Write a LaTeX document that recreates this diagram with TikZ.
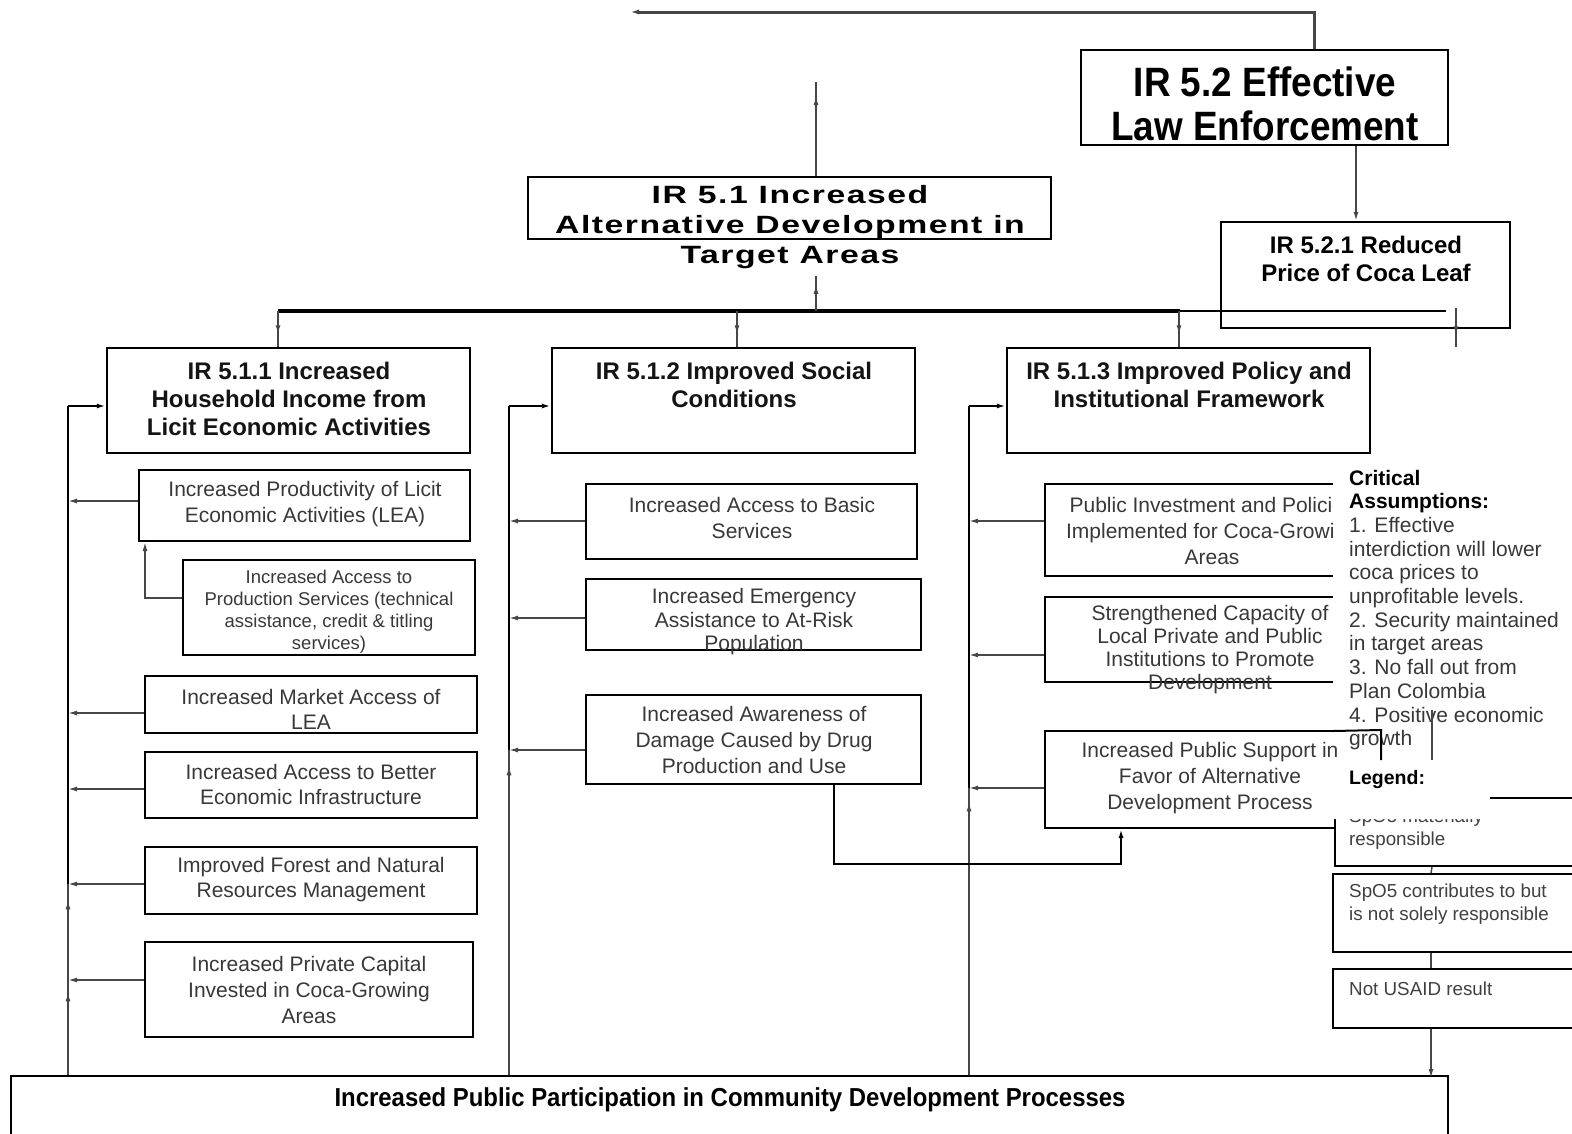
\documentclass[tikz,border=0pt]{standalone}
\usepackage{fontspec}
\setmainfont{Liberation Sans}
\newfontfamily\wideb[FakeStretch=1.35,LetterSpace=6]{Liberation Sans}
\newfontfamily\narrowb[FakeStretch=0.9]{Liberation Sans}
\newfontfamily\bnarrow[FakeStretch=0.92]{Liberation Sans}
\usetikzlibrary{arrows.meta,decorations.markings,calc}
\newcommand\mkbox[6][]{\node[boxst,#1,minimum width={#5-#3},minimum height={#6-#4}] (#2) at ({(#3+#5)/2},{(#4+#6)/2}) {};}
\tikzset{
 boxst/.style={draw=black, line width=2pt, inner sep=0pt},
 conn/.style={draw=black!72, line width=1.5pt},
 thk/.style={draw=black, line width=2.2pt},
 arr/.style={-{Latex[length=9pt,width=5pt]}},
 tipat/.style={postaction={decorate}, decoration={markings, mark=at position #1 with {\arrow{Latex[length=9pt,width=5pt]}}}},
 ttl/.style={font=\bfseries\fontsize{24}{28}\selectfont, align=center, text=black!92, inner sep=0pt},
 sub/.style={font=\fontsize{21}{25.5}\selectfont, align=center, text=black!78, inner sep=0pt},
 lgt/.style={font=\fontsize{18.8}{23}\selectfont, align=left, text=black!75, inner sep=0pt, anchor=west},
}
\begin{document}
\begin{tikzpicture}[x=1pt,y=-1pt]
\useasboundingbox (0,0) rectangle (1572,1133);
% ---------- boxes ----------
\mkbox[line width=2.4pt]{ir52}{1081}{50}{1448}{145}
\mkbox[line width=2.4pt]{ir521}{1221}{222}{1510}{328}
\mkbox[line width=2.4pt]{ir51}{528}{177}{1051}{239}
\mkbox[line width=2.4pt]{ir511}{107}{348}{470}{453}
\mkbox[line width=2.4pt]{ir512}{552}{348}{915}{453}
\mkbox[line width=2.4pt]{ir513}{1007}{348}{1370}{453}
\mkbox{lea}{139}{470}{470}{541}
\mkbox{prod}{183}{560}{475}{655}
\mkbox{mkt}{145}{676}{477}{733}
\mkbox{infra}{145}{752}{477}{818}
\mkbox{forest}{145}{847}{477}{914}
\mkbox{cap}{145}{942}{473}{1037}
\mkbox{basic}{586}{484}{917}{559}
\mkbox{emerg}{586}{579}{921}{650}
\mkbox{aware}{586}{695}{921}{784}
\mkbox{pubinv}{1045}{484}{1380}{576}
\mkbox{strength}{1045}{597}{1380}{682}
\mkbox{support}{1045}{731}{1380}{828}
\mkbox[line width=2.4pt]{bottom}{11}{1076}{1448}{1150}
% ---------- texts ----------
\node[font=\narrowb\bfseries\fontsize{41}{44}\selectfont, align=center, inner sep=0pt] (t52) at (1265,104) {IR 5.2 Effective\\Law Enforcement};
\node[font=\bfseries\fontsize{24}{28}\selectfont, align=center, inner sep=0pt] (t521) at (1366,259) {IR 5.2.1 Reduced\\Price of Coca Leaf};
\node[font=\wideb\bfseries\fontsize{25}{30}\selectfont, align=center, inner sep=0pt] (t51) at (790,227) {IR 5.1 Increased\\Alternative Development in\\Target Areas};
\node[ttl] (t511) at (289,399) {IR 5.1.1 Increased\\Household Income from\\Licit Economic Activities};
\node[ttl] (t512) at (734,385) {IR 5.1.2 Improved Social\\Conditions};
\node[ttl] (t513) at (1189,385) {IR 5.1.3 Improved Policy and\\Institutional Framework};
\node[sub, font=\fontsize{21}{26}\selectfont] (tlea) at (305,504) {Increased Productivity of Licit\\Economic Activities (LEA)};
\node[sub, font=\fontsize{18.5}{22}\selectfont] (tprod) at (329,612) {Increased Access to\\Production Services (technical\\assistance, credit \& titling\\services)};
\node[sub, font=\fontsize{21}{25}\selectfont] (tmkt) at (311,709) {Increased Market Access of\\LEA};
\node[sub, font=\fontsize{21}{25}\selectfont] (tinfra) at (311,784) {Increased Access to Better\\Economic Infrastructure};
\node[sub, font=\fontsize{21}{25}\selectfont] (tforest) at (311,880) {Improved Forest and Natural\\Resources Management};
\node[sub, font=\fontsize{21}{26}\selectfont] (tcap) at (309,990) {Increased Private Capital\\Invested in Coca-Growing\\Areas};
\node[sub, font=\fontsize{21}{26}\selectfont] (tbasic) at (752,518) {Increased Access to Basic\\Services};
\node[sub, font=\fontsize{21}{23.5}\selectfont] (temerg) at (754,622) {Increased Emergency\\Assistance to At-Risk\\Population};
\node[sub, font=\fontsize{21}{26}\selectfont] (taware) at (754,740) {Increased Awareness of\\Damage Caused by Drug\\Production and Use};
\node[sub, font=\fontsize{21}{26}\selectfont] (tpubinv) at (1212,531) {Public Investment and Policies\\Implemented for Coca-Growing\\Areas};
\node[sub, font=\fontsize{21}{23}\selectfont] (tstrength) at (1210,649.5) {Strengthened Capacity of\\Local Private and Public\\Institutions to Promote\\Development};
\node[sub, font=\fontsize{21}{26}\selectfont] (tsupport) at (1210,778) {Increased Public Support in\\Favor of Alternative\\Development Process};
\node[font=\bnarrow\bfseries\fontsize{26}{28}\selectfont, inner sep=0pt] (tbottom) at (730,1100) {Increased Public Participation in Community Development Processes};
% ---------- top connectors ----------
\coordinate (topL) at (630,12);
\draw[conn, line width=3pt, arr] ([xshift=49.5pt]ir52.north) |- (topL);
\draw[conn, arr] ([xshift=91.5pt]ir52.south) -- ([xshift=-9.5pt]ir521.north);
\coordinate (up51) at (816,82);
\draw[conn, tipat=0.85] ([xshift=26.5pt]ir51.north) -- (up51);
\coordinate (barL) at (278,311);
\coordinate (barM) at (1180,311);
\coordinate (barR) at (1446,311);
\coordinate (barup) at (816,311);
\coordinate (t51b) at (816,276);
\coordinate (b2) at (737,311);
\coordinate (b3) at (1179,311);
\coordinate (b4) at (1456,308);
\coordinate (b4e) at (1456,347);
\draw[black, line width=4pt] (barL) -- (barM);
\draw[black, line width=2.2pt] (barM) -- (barR);
\draw[conn, tipat=0.75] (barup) -- (t51b);
\draw[conn, tipat=0.65] (barL) -- (barL |- ir511.north);
\draw[conn, tipat=0.65] (b2) -- (b2 |- ir512.north);
\draw[conn, tipat=0.65] (b3) -- (b3 |- ir513.north);
\draw[conn, tipat=0.7] (b4) -- (b4e);
% ---------- left column ----------
\coordinate (L0) at (68,406);
\coordinate (Llea) at (68,501);
\coordinate (Lmkt) at (68,713);
\coordinate (Linf) at (68,789);
\coordinate (Lfor) at (68,884);
\coordinate (Lcap) at (68,980);
\draw[thk] (Lfor) -- (L0);
\draw[thk, arr] (L0) -- (L0 -| ir511.west);
\draw[conn, tipat=0.87] (bottom.north -| Lcap) -- (Lcap);
\draw[conn, tipat=0.83] (Lcap) -- (Lfor);
\draw[conn, arr] (lea.west) ++(0,-4.5) -- (Llea);
\draw[conn, arr] (mkt.west) ++(0,8.5) -- (Lmkt);
\draw[conn, arr] (infra.west) ++(0,4) -- (Linf);
\draw[conn, arr] (forest.west) ++(0,3.5) -- (Lfor);
\draw[conn, arr] (cap.west) ++(0,-9.5) -- (Lcap);
\draw[conn, arr] (prod.west) ++(0,-9.5) -| ([xshift=-159.5pt]lea.south);
% ---------- middle column ----------
\coordinate (M0) at (509,406);
\coordinate (Mbas) at (509,521);
\coordinate (Mem) at (509,618);
\coordinate (Maw) at (509,750);
\draw[thk] (Maw) -- (M0);
\draw[thk, arr] (M0) -- (M0 -| ir512.west);
\draw[conn, tipat=0.95] (bottom.north -| Maw) -- (Maw);
\draw[conn, arr] (basic.west) ++(0,-0.5) -- (Mbas);
\draw[conn, arr] (emerg.west) ++(0,3.5) -- (Mem);
\draw[conn, arr] (aware.west) ++(0,10.5) -- (Maw);
% ---------- right column ----------
\coordinate (R0) at (969,406);
\coordinate (Rpi) at (969,521);
\coordinate (Rst) at (969,655);
\coordinate (Rsu) at (969,788);
\draw[thk] (Rsu) -- (R0);
\draw[thk, arr] (R0) -- (R0 -| ir513.west);
\draw[conn, tipat=0.95] (bottom.north -| Rsu) -- (Rsu);
\draw[conn, arr] (pubinv.west) ++(0,-9) -- (Rpi);
\draw[conn, arr] (strength.west) ++(0,15.5) -- (Rst);
\draw[conn, arr] (support.west) ++(0,8.5) -- (Rsu);
\draw[black, line width=2pt, arr] ([xshift=80.5pt]aware.south) |- ([xshift=-91.5pt, yshift=-35pt]support.south) -- ([xshift=-91.5pt]support.south);
% ---------- legend ----------
\mkbox[fill=white]{lg1}{1335}{800}{1590}{866}
\mkbox{lg2}{1333}{874}{1590}{952}
\mkbox{lg3}{1333}{969}{1590}{1028}
\node[lgt] (tlg1) at (1349,829.5) {SpO5 materially\\responsible};
\node[lgt] (tlg2) at (1349,904.5) {SpO5 contributes to but\\is not solely responsible};
\node[lgt] (tlg3) at (1349,989) {Not USAID result};
\draw[conn] ([xshift=-30.5pt]lg1.south) -- ([xshift=-30.5pt]lg2.north);
\draw[conn] ([xshift=-30.5pt]lg2.south) -- ([xshift=-30.5pt]lg3.north);
\draw[conn, arr] ([xshift=-30.5pt]lg3.south) -- ++(0,49);
% ---------- critical assumptions text box ----------
\fill[white] (1333,466) -- (1572,466) -- (1572,819) -- (1333,819) -- (1333,790) -- (1344,790) -- (1344,737) -- (1333,737) -- cycle;
\node[font=\fontsize{21}{23.7}\selectfont, align=left, text=black!78, inner sep=0pt, anchor=west] (assump) at (1349,610)
 {\textcolor{black}{\textbf{Critical}}\\\textcolor{black}{\textbf{Assumptions:}}\\1. Effective\\interdiction will lower\\coca prices to\\unprofitable levels.\\2. Security maintained\\in target areas\\3. No fall out from\\Plan Colombia\\4. Positive economic\\growth};
\node[font=\bfseries\fontsize{19.5}{22}\selectfont, inner sep=0pt, anchor=west] (legend) at (1349,779) {Legend:};
\coordinate (lgA) at (1490,798);
\coordinate (lgB) at (1572,798);
\draw[black, line width=2pt] (lgA) -- (lgB);
\draw[black, line width=2pt] (1333,731) -- (support.north east) -- ++(0,30);
\draw[conn] (1432,710) -- (1432,760);
\end{tikzpicture}
\end{document}
